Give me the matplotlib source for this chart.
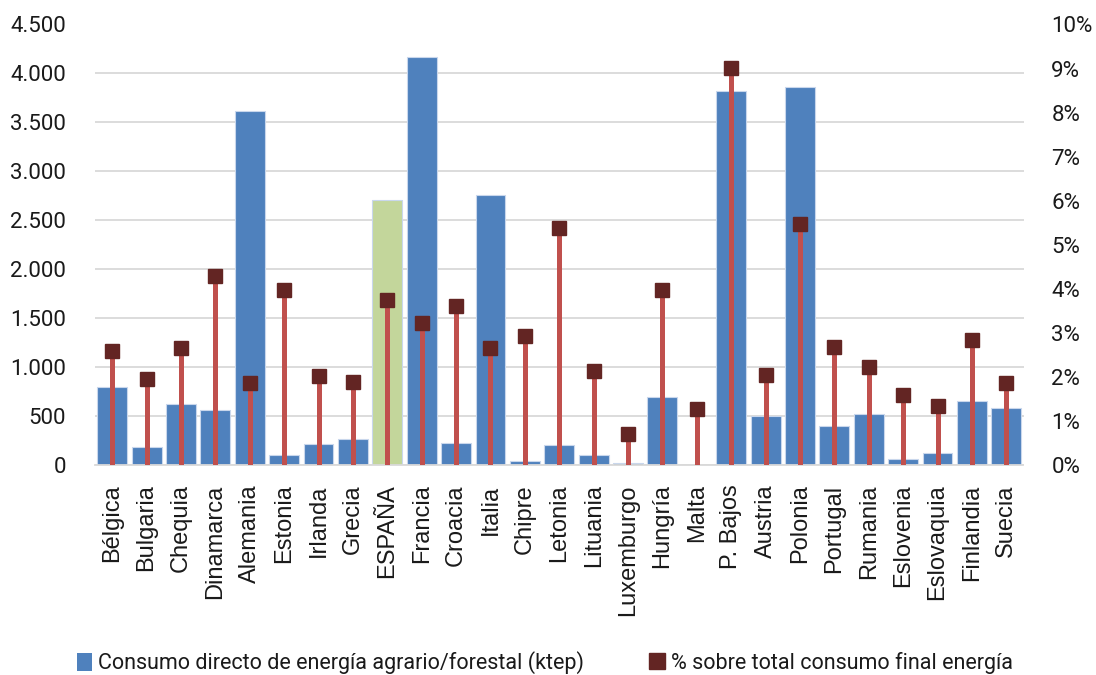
import matplotlib
matplotlib.use("Agg")
import matplotlib.pyplot as plt
from matplotlib.patches import Patch
from matplotlib.lines import Line2D
from matplotlib.ticker import FuncFormatter, MultipleLocator

paises = ["Bélgica", "Bulgaria", "Chequia", "Dinamarca", "Alemania", "Estonia",
          "Irlanda", "Grecia", "ESPAÑA", "Francia", "Croacia", "Italia", "Chipre",
          "Letonia", "Lituania", "Luxemburgo", "Hungría", "Malta", "P. Bajos",
          "Austria", "Polonia", "Portugal", "Rumania", "Eslovenia", "Eslovaquia",
          "Finlandia", "Suecia"]
consumo_ktep = [800, 180, 626, 562, 3618, 102, 214, 269, 2706, 4166, 221, 2754,
                38, 201, 102, 17, 691, 2, 3816, 500, 3860, 401, 517, 58, 119,
                657, 579]
pct_final = [2.59, 1.95, 2.65, 4.29, 1.86, 3.97, 2.02, 1.88, 3.74, 3.22, 3.61,
             2.65, 2.93, 5.38, 2.13, 0.70, 3.97, 1.27, 9.01, 2.04, 5.47, 2.68,
             2.22, 1.59, 1.34, 2.84, 1.86]

narrow = "Roboto"
label_font = "Liberation Sans"

BLUE = "#4F81BD"
GREEN = "#C3D69B"
RED = "#C0504D"
DARK = "#632523"
GRID = "#D9D9D9"
TXT = "#1A1A1A"

fig = plt.figure(figsize=(10.96, 6.75), dpi=100)
ax = fig.add_axes([95 / 1096, 210 / 675, (1023.5 - 95) / 1096, (465 - 24.5) / 675])
ax2 = ax.twinx()

x = list(range(len(paises)))
colors = [GREEN if p == "ESPAÑA" else BLUE for p in paises]
ax.bar(x, consumo_ktep, width=0.87, color=colors, edgecolor="#C9D7EC",
       linewidth=0.8, zorder=2)

ax.set_ylim(0, 4500)
ax.set_xlim(-0.5, len(paises) - 0.5)
ax.yaxis.set_major_locator(MultipleLocator(500))
ax.yaxis.set_major_formatter(FuncFormatter(lambda v, p: f"{int(v):,}".replace(",", ".")))
ax.grid(axis="y", color=GRID, linewidth=1.3, zorder=0)
ax.set_axisbelow(True)
for s in ["top", "right", "left"]:
    ax.spines[s].set_visible(False)
ax.spines["bottom"].set_color(GRID)
ax.spines["bottom"].set_linewidth(1.3)
ax.tick_params(axis="y", length=0, pad=21, labelsize=16, labelcolor=TXT)
ax.tick_params(axis="x", length=0, pad=14)
ax.set_xticks(x)
ax.set_xticklabels(paises, rotation=90, fontsize=17, family=label_font,
                   va="top", ha="center", color=TXT)
for t in ax.get_yticklabels():
    t.set_family(narrow)

ax2.vlines(x, 0, pct_final, color=RED, linewidth=3.6, zorder=3)
ax2.plot(x, pct_final, linestyle="none", marker="s", markersize=10.5,
         color=DARK, zorder=4)
ax2.set_ylim(0, 10)
ax2.yaxis.set_major_locator(MultipleLocator(1))
ax2.yaxis.set_major_formatter(FuncFormatter(lambda v, p: f"{int(round(v))}%"))
for s in ["top", "right", "left", "bottom"]:
    ax2.spines[s].set_visible(False)
ax2.tick_params(axis="y", length=0, pad=20, labelsize=16, labelcolor=TXT)
for t in ax2.get_yticklabels():
    t.set_family(narrow)

handles = [Patch(facecolor=BLUE, edgecolor="none"),
           Line2D([], [], linestyle="none", marker="s", markersize=12, color=DARK)]
labels = ["Consumo directo de energía agrario/forestal (ktep)",
          "% sobre total consumo final energía"]
fig.legend(handles, labels, loc="center", bbox_to_anchor=(0.497, 0.018),
           ncol=2, frameon=False, prop={"family": narrow, "size": 15.5},
           handlelength=0.7, handleheight=0.9, handletextpad=0.3,
           columnspacing=3.0, labelcolor=TXT)

fig.savefig("out.png", dpi=100)
